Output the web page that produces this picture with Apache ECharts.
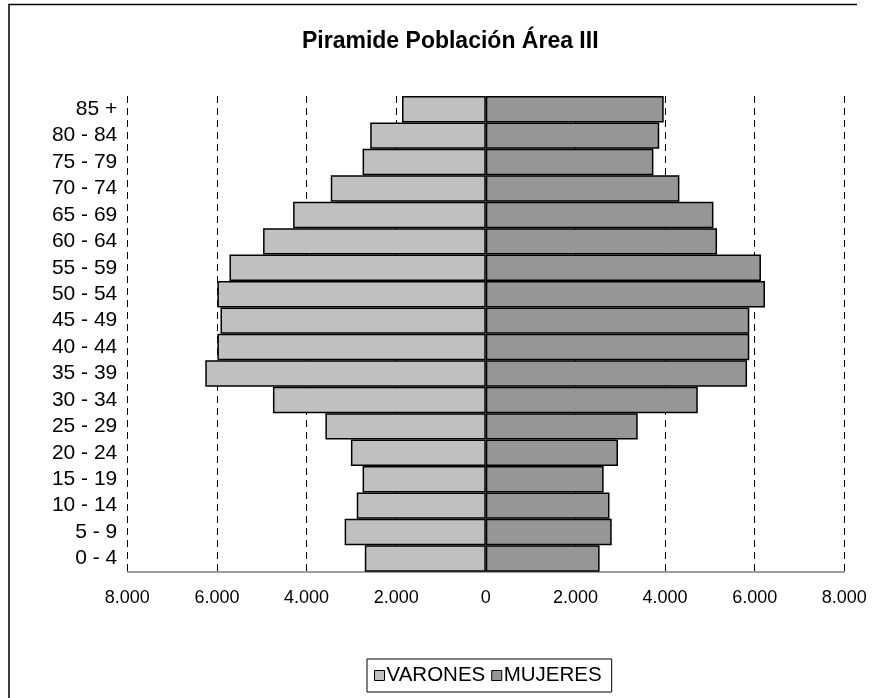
<!DOCTYPE html>
<html>
<head>
<meta charset="utf-8">
<title>Piramide Población Área III</title>
<script src="https://cdn.jsdelivr.net/npm/echarts@6/dist/echarts.min.js"></script>
<style>
  html, body { margin: 0; padding: 0; background: #fff; }
  #chart { width: 873px; height: 698px; }
</style>
</head>
<body>
<div id="chart"></div>
<script>
// Age groups, from youngest (bottom) to oldest (top)
var ageGroups = ['0 - 4', '5 - 9', '10 - 14', '15 - 19', '20 - 24', '25 - 29', '30 - 34',
  '35 - 39', '40 - 44', '45 - 49', '50 - 54', '55 - 59', '60 - 64', '65 - 69',
  '70 - 74', '75 - 79', '80 - 84', '85 +'];

// Population by age group
var varones = [2700, 3150, 2880, 2750, 3010, 3580, 4750, 6260, 5990, 5920, 5990, 5720,
  4970, 4300, 3460, 2750, 2580, 1870];
var mujeres = [2540, 2810, 2760, 2630, 2950, 3390, 4730, 5830, 5880, 5880, 6230, 6140,
  5160, 5080, 4320, 3740, 3870, 3970];

// Axis range and tick step
var axisMax = 8000;
var axisStep = 2000;

var FONT = '"Liberation Sans", Arial, sans-serif';

function thousands(v) {
  var s = String(Math.abs(Math.round(v)));
  return s.replace(/\B(?=(\d{3})+(?!\d))/g, '.');
}

var chart = echarts.init(document.getElementById('chart'), null, { renderer: 'canvas' });

chart.setOption({
  backgroundColor: '#ffffff',
  animation: false,
  textStyle: { fontFamily: FONT, color: '#000' },
  title: {
    text: 'Piramide Población Área III',
    left: 297,
    top: 25,
    textStyle: { fontFamily: FONT, fontSize: 23, fontWeight: 'bold', color: '#000' }
  },
  legend: {
    data: ['VARONES', 'MUJERES'],
    left: 367,
    top: 659,
    orient: 'horizontal',
    itemWidth: 10,
    itemHeight: 10,
    itemGap: 6,
    padding: [6, 10, 6, 7],
    borderColor: '#000',
    borderWidth: 1,
    backgroundColor: '#fff',
    icon: 'rect',
    itemStyle: { borderColor: '#000', borderWidth: 1 },
    textStyle: { fontFamily: FONT, fontSize: 20.5, color: '#000', padding: [0, 0, 0, -3] }
  },
  grid: {
    left: 127.3,
    right: 28.7,
    top: 96,
    bottom: 126.3,
    containLabel: false
  },
  xAxis: {
    type: 'value',
    min: -axisMax,
    max: axisMax,
    interval: axisStep,
    axisLine: { show: true, onZero: false, lineStyle: { color: '#808080', width: 1.5 } },
    axisTick: { show: false },
    axisLabel: {
      margin: 17,
      fontFamily: FONT,
      fontSize: 18,
      color: '#000',
      formatter: thousands
    },
    splitLine: {
      show: true,
      lineStyle: { color: '#000', width: 1, type: [7, 5] }
    }
  },
  yAxis: {
    type: 'category',
    data: ageGroups,
    axisLine: { show: false },
    axisTick: { show: false },
    axisLabel: {
      interval: 0,
      hideOverlap: false,
      margin: 10,
      fontFamily: FONT,
      fontSize: 21,
      color: '#000'
    },
    splitLine: { show: false }
  },
  series: [
    {
      name: 'VARONES',
      type: 'bar',
      stack: 'piramide',
      barCategoryGap: '0%',
      data: varones.map(function (v) { return -v; }),
      itemStyle: { color: '#C0C0C0', borderColor: '#000', borderWidth: 1.5 }
    },
    {
      name: 'MUJERES',
      type: 'bar',
      stack: 'piramide',
      barCategoryGap: '0%',
      data: mujeres,
      itemStyle: { color: '#969696', borderColor: '#000', borderWidth: 1.5 }
    }
  ],
  graphic: [
    {
      type: 'polyline',
      silent: true,
      shape: { points: [[9, 700], [9, 4.5], [857, 4.5]] },
      style: { stroke: '#000', lineWidth: 1.5, fill: null }
    }
  ]
});
</script>
</body>
</html>
